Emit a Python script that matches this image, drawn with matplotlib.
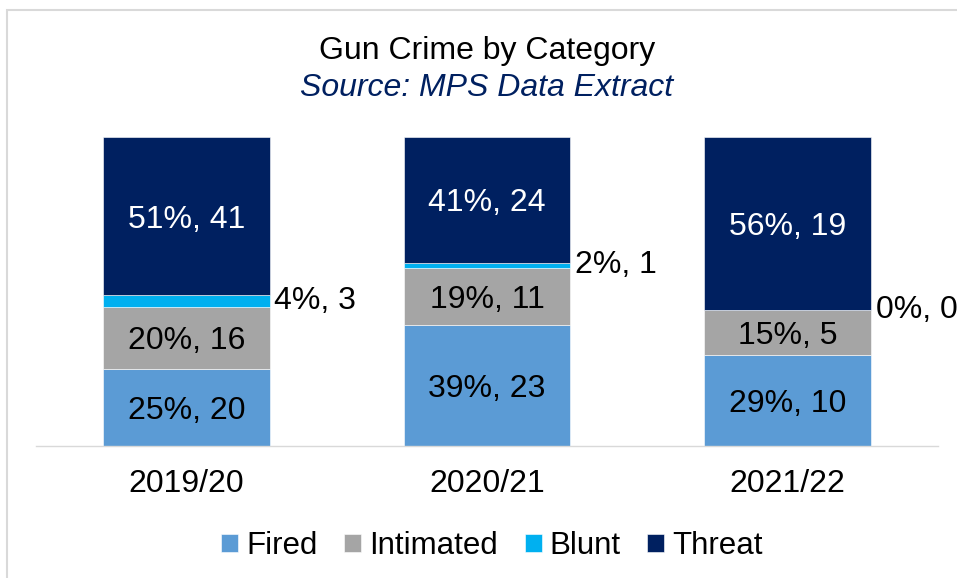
import matplotlib.pyplot as plt
from matplotlib.patches import Rectangle

plt.rcParams["font.family"] = ["Liberation Sans", "DejaVu Sans"]

years = ["2019/20", "2020/21", "2021/22"]
categories = ["Fired", "Intimated", "Blunt", "Threat"]
fired = [20, 23, 10]
intimated = [16, 11, 5]
blunt = [3, 1, 0]
threat = [41, 24, 19]

colors = ["#5B9BD5", "#A5A5A5", "#00B0F0", "#002060"]
text_colors = ["black", "black", "black", "white"]
FS = 23

series = [fired, intimated, blunt, threat]
totals = [sum(v) for v in zip(*series)]

fig = plt.figure(figsize=(9.57, 5.78), dpi=100)
ax = fig.add_axes([36 / 957, 1 - 445.7 / 578, (938 - 36) / 957, (445.7 - 137) / 578])

x = list(range(len(years)))
bottoms = [0.0] * len(years)
for name, vals, col, tcol in zip(categories, series, colors, text_colors):
    shares = [v / t for v, t in zip(vals, totals)]
    ax.bar(x, shares, width=0.555, bottom=bottoms, color=col, label=name,
           edgecolor="white", linewidth=0.4)
    for i, (v, s) in enumerate(zip(vals, shares)):
        label = f"{round(s * 100):.0f}%, {v}"
        y = bottoms[i] + s / 2
        if name == "Blunt":
            # thin segment: label sits just right of the bar
            ax.text(i + 0.555 / 2 + 0.015, y, label, ha="left", va="center",
                    fontsize=FS, color="black")
        else:
            ax.text(i, y, label, ha="center", va="center_baseline",
                    fontsize=FS, color=tcol)
    bottoms = [b + s for b, s in zip(bottoms, shares)]

ax.set_xlim(-0.5, 2.5)
ax.set_ylim(0, 1)
ax.set_xticks(x)
ax.set_xticklabels(years, fontsize=FS)
ax.tick_params(axis="x", length=0, pad=17)
ax.set_yticks([])
for side in ["top", "left", "right"]:
    ax.spines[side].set_visible(False)
ax.spines["bottom"].set_color("#D9D9D9")
ax.spines["bottom"].set_linewidth(1.0)

fig.text(487 / 957, 1 - 48 / 578, "Gun Crime by Category", ha="center",
         va="center_baseline", fontsize=FS, color="black")
fig.text(487 / 957, 1 - 85 / 578, "Source: MPS Data Extract", ha="center",
         va="center_baseline", fontsize=FS, color="#002060", style="italic")

fig.legend(loc="center", bbox_to_anchor=(492 / 957, 1 - 546 / 578), ncol=4,
           frameon=False, fontsize=22.5, handlelength=0.55, handleheight=0.55,
           handletextpad=0.25, columnspacing=0.85, borderaxespad=0)

# outer chart frame, running off the right and bottom edges
fig.patches.append(Rectangle((7 / 957, -0.1), 2, 1 - 10 / 578 + 0.1,
                             transform=fig.transFigure, fill=False,
                             edgecolor="#D9D9D9", linewidth=1.5))

fig.savefig("out.png", dpi=100)
